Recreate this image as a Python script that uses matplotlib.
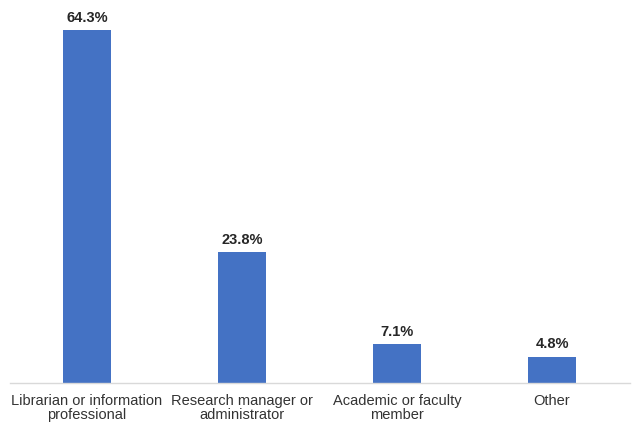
import matplotlib.pyplot as plt
import numpy as np

plt.rcParams['font.family'] = ['Liberation Sans', 'DejaVu Sans']

categories = ['Librarian or information\nprofessional', 'Research manager or\nadministrator',
              'Academic or faculty\nmember', 'Other']
values = [64.3, 23.8, 7.1, 4.8]

W, H = 640, 428
fig = plt.figure(figsize=(W / 100, H / 100), dpi=100)
ax = fig.add_axes([9.5 / W, (H - 383) / H, 620 / W, 373 / H])

x = np.arange(len(categories))
bars = ax.bar(x, values, width=0.31, color='#4472C4', zorder=2)
for b, v in zip(bars, values):
    ax.text(b.get_x() + b.get_width() / 2, v + 1.0, f'{v:.1f}%', ha='center', va='bottom',
            fontsize=10.5, fontweight='bold', color='#262626')

ax.set_xlim(-0.5, len(categories) - 0.5)
ax.set_ylim(0, 373 / 5.49)
ax.set_xticks(x)
ax.set_xticklabels(categories, fontsize=10.5, color='#333333', linespacing=0.98)
ax.tick_params(axis='x', length=0, pad=8)
ax.set_yticks([])
for s in ['top', 'right', 'left']:
    ax.spines[s].set_visible(False)
ax.spines['bottom'].set_color('#D9D9D9')
ax.spines['bottom'].set_linewidth(1)

fig.savefig('out.png', dpi=100)
